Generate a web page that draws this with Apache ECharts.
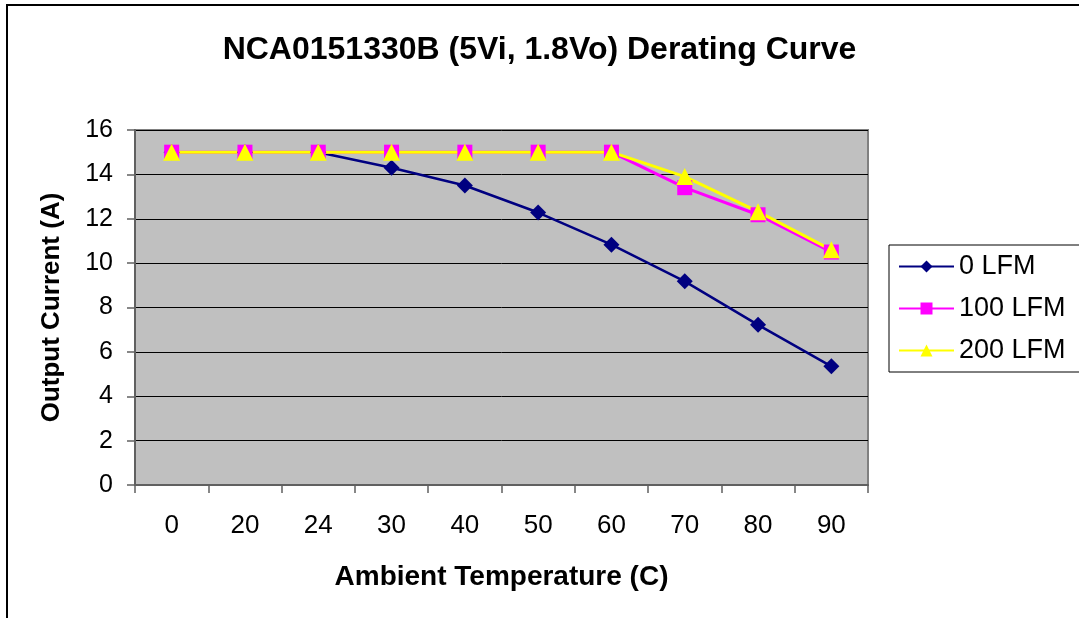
<!DOCTYPE html>
<html><head><meta charset="utf-8">
<script src="https://cdn.jsdelivr.net/npm/echarts@6/dist/echarts.min.js"></script>
<style>html,body{margin:0;padding:0;background:#fff}#c{width:1079px;height:618px}</style>
</head><body><div id="c"></div>
<script>
const categories = ['0','20','24','30','40','50','60','70','80','90'];
const lfm0 = [15,15,15,14.3,13.5,12.28,10.83,9.18,7.22,5.35];
const lfm100 = [15,15,15,15,15,15,15,13.4,12.18,10.5];
const lfm200 = [15,15,15,15,15,15,15,13.9,12.32,10.6];
const yTicks = {min:0, max:16, interval:2};
const F = 'Liberation Sans, Arial, sans-serif';
const chart = echarts.init(document.getElementById('c'));
chart.setOption({
  animation:false,
  backgroundColor:'#fff',
  graphic:[{type:'rect',shape:{x:7,y:5,width:1100,height:700},style:{fill:'none',stroke:'#000',lineWidth:2},silent:true}],
  title:{text:'NCA0151330B (5Vi, 1.8Vo) Derating Curve',left:'center',top:29,
    textStyle:{fontFamily:F,fontSize:32,fontWeight:'bold',color:'#000'}},
  legend:{left:889,top:245,orient:'vertical',backgroundColor:'#fff',borderColor:'#000',borderWidth:1,
    padding:[8,40,8,9],itemGap:15,itemWidth:55,itemHeight:15,
    textStyle:{fontFamily:F,fontSize:27,color:'#000'},
    data:['0 LFM','100 LFM','200 LFM']},
  grid:{left:135,top:130,right:211,bottom:133,show:true,backgroundColor:'#C0C0C0',borderColor:'#808080',borderWidth:2},
  xAxis:{type:'category',data:categories,boundaryGap:true,
    name:'Ambient Temperature (C)',nameLocation:'middle',nameGap:78,
    nameTextStyle:{fontFamily:F,fontSize:28,fontWeight:'bold',color:'#000'},
    axisLine:{lineStyle:{color:'#606060',width:2}},
    axisTick:{show:true,interval:0,length:8,lineStyle:{color:'#606060',width:1.5}},
    axisLabel:{fontFamily:F,fontSize:26,color:'#000',margin:28,interval:0}},
  yAxis:{type:'value',min:yTicks.min,max:yTicks.max,interval:yTicks.interval,
    name:'Output Current (A)',nameLocation:'middle',nameGap:70,
    nameTextStyle:{fontFamily:F,fontSize:26,fontWeight:'bold',color:'#000'},
    axisLine:{show:true,lineStyle:{color:'#606060',width:2}},
    axisTick:{show:true,length:8,lineStyle:{color:'#606060',width:1.5}},
    axisLabel:{fontFamily:F,fontSize:25,color:'#000',margin:22},
    splitLine:{show:true,lineStyle:{color:'#000',width:1}}},
  series:[
    {name:'0 LFM',type:'line',data:lfm0,symbol:'diamond',symbolSize:16,
      lineStyle:{color:'#000080',width:2.5},itemStyle:{color:'#000080'}},
    {name:'100 LFM',type:'line',data:lfm100,symbol:'rect',symbolSize:15,
      lineStyle:{color:'#FF00FF',width:3},itemStyle:{color:'#FF00FF'}},
    {name:'200 LFM',type:'line',data:lfm200,symbol:'triangle',symbolSize:17,
      lineStyle:{color:'#FFFF00',width:3},itemStyle:{color:'#FFFF00'}}
  ]
});
</script></body></html>
